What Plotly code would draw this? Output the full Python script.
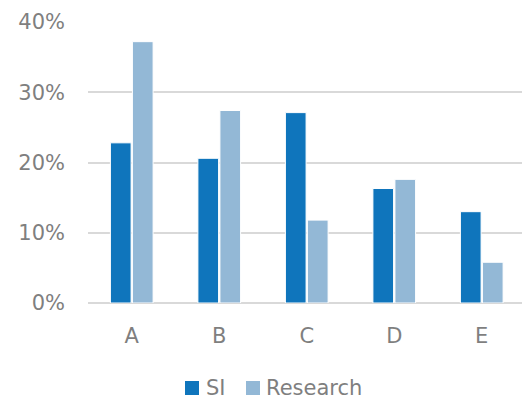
import plotly.graph_objects as go

categories = ["A", "B", "C", "D", "E"]
si_values = [22.8, 20.6, 27.1, 16.3, 13.0]
research_values = [37.2, 27.4, 11.8, 17.6, 5.8]
y_ticks = [0, 10, 20, 30, 40]
y_tick_labels = ["0%", "10%", "20%", "30%", "40%"]
series_names = ["SI", "Research"]

SI_COLOR = "#0F75BC"
RESEARCH_COLOR = "#93B8D6"
TEXT_COLOR = "#7F7F7F"
GRID_COLOR = "#D9D9D9"
FONT = "DejaVu Sans"
FONT_SIZE = 21

W, H = 522, 398
M_L, M_R, M_T, M_B = 88, 0, 22, 95
PLOT_W = W - M_L - M_R
PLOT_H = H - M_T - M_B


def px_to_paper(px, py):
    return (px - M_L) / PLOT_W, (H - M_B - py) / PLOT_H


fig = go.Figure()
fig.add_trace(go.Bar(
    x=categories, y=si_values, name=series_names[0],
    marker=dict(color=SI_COLOR, line=dict(color="white", width=1)),
))
fig.add_trace(go.Bar(
    x=categories, y=research_values, name=series_names[1],
    marker=dict(color=RESEARCH_COLOR, line=dict(color="white", width=1)),
))

# legend drawn as swatches + labels below the plot
shapes, annotations = [], []
legend_items = [(series_names[0], SI_COLOR, 185, 205),
                (series_names[1], RESEARCH_COLOR, 246, 265)]
for name, color, sx, tx in legend_items:
    x0, y0 = px_to_paper(sx, 395)
    x1, y1 = px_to_paper(sx + 14, 381)
    shapes.append(dict(type="rect", xref="paper", yref="paper",
                       x0=x0, y0=y0, x1=x1, y1=y1,
                       fillcolor=color, line=dict(width=0)))
    ax, ay = px_to_paper(tx - 1, 388)
    annotations.append(dict(text=name, xref="paper", yref="paper",
                            x=ax, y=ay, xanchor="left", yanchor="middle",
                            showarrow=False,
                            font=dict(family=FONT, size=FONT_SIZE, color=TEXT_COLOR)))

fig.update_layout(
    width=W, height=H,
    margin=dict(l=M_L, r=M_R, t=M_T, b=M_B),
    paper_bgcolor="white", plot_bgcolor="white",
    font=dict(family=FONT, size=FONT_SIZE, color=TEXT_COLOR),
    barmode="group", bargap=0.497, bargroupgap=0.06,
    showlegend=False,
    shapes=shapes, annotations=annotations,
    xaxis=dict(
        range=[-0.5, 4.46], showgrid=False, showline=False, zeroline=False,
        ticks="", ticklabelstandoff=18, automargin=False,
        tickfont=dict(family=FONT, size=FONT_SIZE, color=TEXT_COLOR),
    ),
    yaxis=dict(
        range=[0, 40], tickvals=y_ticks, ticktext=y_tick_labels,
        showgrid=True, gridcolor=GRID_COLOR, gridwidth=1.5,
        zeroline=True, zerolinecolor=GRID_COLOR, zerolinewidth=1.5,
        showline=False, ticks="", ticklabelstandoff=22, automargin=False,
        tickfont=dict(family=FONT, size=FONT_SIZE, color=TEXT_COLOR),
    ),
)

fig.write_html("out.html")
